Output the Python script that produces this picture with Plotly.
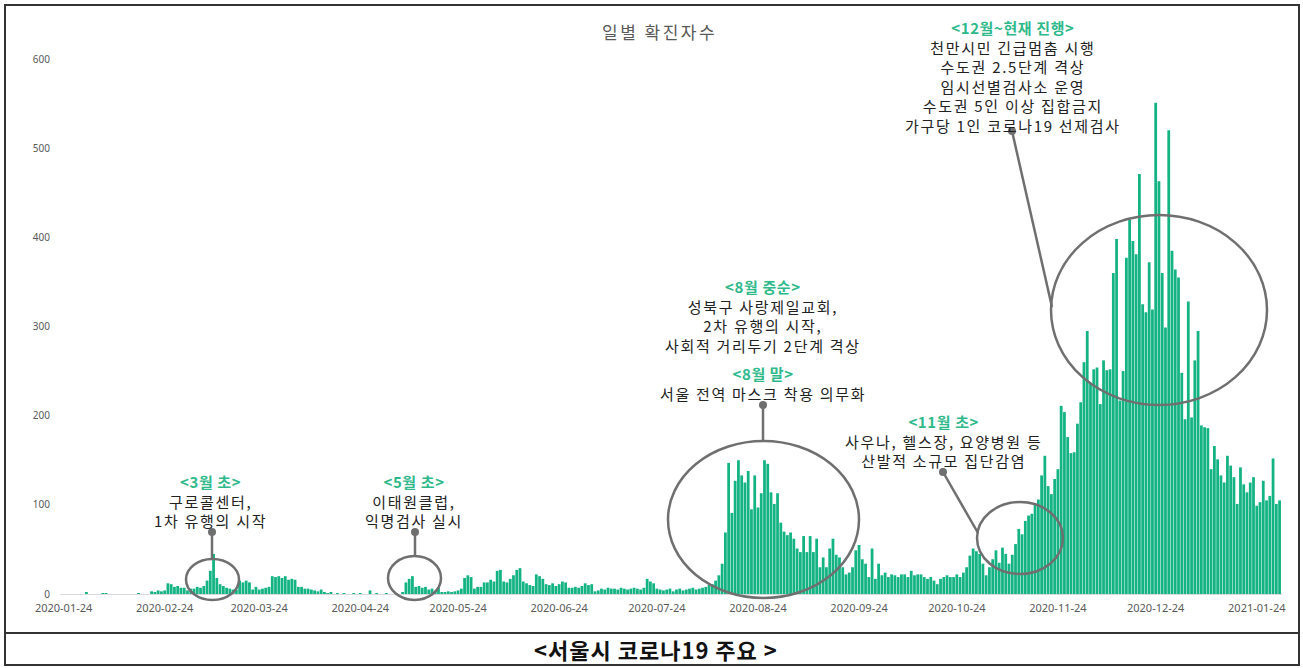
import pandas as pd
import plotly.graph_objects as go

# ---------------- data ----------------
start_date = "2020-01-24"
daily_cases = [
    # 2020-01-24 .. 2020-02-19
    0, 0, 0, 0, 0, 0, 0, 2, 0, 0, 0, 0, 1, 1, 0, 0, 0, 0, 0, 0, 0, 0, 0, 1, 0, 0, 0,
    # 02-20 .. 03-01
    3, 2, 4, 3, 4, 12, 11, 8, 9, 7, 7,
    # 03-02 .. 03-17
    4, 6, 6, 8, 7, 9, 15, 26, 45, 18, 11, 9, 7, 6, 5, 5,
    # 03-18 .. 03-27
    15, 13, 15, 13, 5, 8, 5, 6, 7, 8,
    # 03-28 .. 04-15
    20, 19, 20, 18, 20, 16, 17, 16, 8, 8, 6, 6, 5, 4, 3, 5, 2, 1, 2,
    # 04-16 .. 05-07
    0, 1, 0, 1, 0, 0, 1, 0, 1, 0, 0, 4, 0, 1, 0, 0, 1, 0, 0, 1, 0, 2,
    # 05-08 .. 05-25
    13, 17, 20, 8, 9, 7, 8, 5, 6, 3, 7, 2, 2, 3, 2, 3, 4, 6,
    # 05-26 .. 07-04
    18, 21, 19, 6, 8, 8, 13, 13, 16, 14, 26, 27, 14, 13, 17, 21, 27, 29, 14, 12,
    10, 9, 22, 20, 17, 11, 10, 12, 9, 11, 14, 13, 7, 7, 8, 7, 9, 12, 10, 11,
    # 07-05 .. 08-10
    3, 4, 6, 5, 7, 6, 6, 5, 7, 6, 5, 6, 7, 6, 5, 7, 17, 14, 12,
    6, 5, 4, 5, 6, 3, 5, 6, 4, 5, 6, 7, 5, 6, 7, 8, 10, 11,
    # 08-11 .. 09-02
    15, 21, 34, 69, 147, 91, 127, 150, 133, 125, 138, 95, 133, 97, 113, 150, 146,
    114, 101, 113, 80, 70, 66,
    # 09-03 .. 10-30
    69, 62, 51, 47, 65, 47, 65, 47, 62, 30, 41, 30, 51, 62, 44, 41, 30, 22, 24, 30,
    49, 55, 39, 34, 19, 51, 17, 34, 21, 24, 19, 22, 21, 19, 22, 22, 19, 26, 21, 22,
    22, 19, 17, 19, 15, 11, 17, 19, 21, 19, 19, 22, 19, 24, 30, 43, 51, 48,
    # 10-31 .. 11-24
    45, 34, 21, 30, 39, 49, 35, 52, 45, 34, 44, 56, 73, 67, 82, 88, 90, 101, 106, 133,
    155, 121, 112, 129, 140,
    # 11-25 .. 12-12
    211, 204, 176, 158, 159, 191, 215, 260, 295, 237, 252, 254, 213, 262, 251, 252, 360, 398,
    # 12-13 .. 01-06
    217, 250, 377, 420, 396, 381, 471, 325, 316, 372, 319, 551, 463, 360, 299, 520,
    385, 364, 355, 248, 196, 328, 198, 262, 295,
    # 01-07 .. 01-31
    189, 187, 186, 140, 166, 151, 133, 125, 155, 144, 131, 101, 142, 123, 114, 125,
    131, 99, 103, 127, 105, 110, 152, 101, 105,
]
dates = pd.date_range(start_date, periods=len(daily_cases), freq="D")

x_tick_labels = ["2020-01-24", "2020-02-24", "2020-03-24", "2020-04-24", "2020-05-24",
                 "2020-06-24", "2020-07-24", "2020-08-24", "2020-09-24", "2020-10-24",
                 "2020-11-24", "2020-12-24", "2021-01-24"]
y_tick_values = [0, 100, 200, 300, 400, 500, 600]

chart_title = "일별 확진자수"
caption = "&lt;서울시 코로나19 주요 &gt;"

# annotation texts: (header, body lines)
notes = [
    ("&lt;3월 초&gt;", ["구로콜센터,", "1차 유행의 시작"]),
    ("&lt;5월 초&gt;", ["이태원클럽,", "익명검사 실시"]),
    ("&lt;8월 중순&gt;", ["성북구 사랑제일교회,", "2차 유행의 시작,", "사회적 거리두기 2단계 격상"]),
    ("&lt;8월 말&gt;", ["서울 전역 마스크 착용 의무화"]),
    ("&lt;11월 초&gt;", ["사우나, 헬스장, 요양병원 등", "산발적 소규모 집단감염"]),
    ("&lt;12월~현재 진행&gt;", ["천만시민 긴급멈춤 시행", "수도권 2.5단계 격상", "임시선별검사소 운영",
                         "수도권 5인 이상 집합금지", "가구당 1인 코로나19 선제검사"]),
]

# ---------------- layout geometry (pixels) ----------------
W, H = 1303, 668
L, R, T, B = 60, 1282, 14, 594
X0_PX = 63.6            # pixel of first date
PX_PER_DAY = 3.26
PX_PER_UNIT = 535 / 600

start_ts = pd.Timestamp(start_date)


def px_to_date(px):
    return (start_ts + pd.Timedelta(days=(px - X0_PX) / PX_PER_DAY)).strftime("%Y-%m-%d %H:%M:%S")


def xp(px):
    return (px - L) / (R - L)


def yp(py):
    return (B - py) / (B - T)


def spaced(text, px):
    return '<span style="letter-spacing:%.1fpx">%s</span>' % (px, text)


BAR = "#14b383"
GREEN = "#2fb98b"
GREY = "#6f6f6f"
TEXT = "#222222"
FONT = "Noto Sans CJK KR"
NOTE_SIZE = 15

fig = go.Figure()
fig.add_trace(go.Bar(x=dates, y=daily_cases, marker=dict(color=BAR, line=dict(width=0)),
                     hoverinfo="x+y"))

shapes = []
annotations = []

# frame and caption separator
shapes.append(dict(type="rect", xref="paper", yref="paper", x0=xp(5), x1=xp(1299), y0=yp(5), y1=yp(665),
                   line=dict(color="#333333", width=2), layer="above"))
shapes.append(dict(type="line", xref="paper", yref="paper", x0=xp(5), x1=xp(1299), y0=yp(633), y1=yp(633),
                   line=dict(color="#333333", width=2), layer="above"))

# note blocks: (center x, center y of block) in pixels
note_pos = [(210, 501), (414, 501), (763, 316), (763, 383), (943, 441), (1013, 76)]
for (header, lines), (cx, cy) in zip(notes, note_pos):
    txt = ('<span style="color:%s;letter-spacing:0.6px"><b>%s</b></span><br>' % (GREEN, header)
           + "<br>".join(spaced(t, 1.7) for t in lines))
    annotations.append(dict(x=xp(cx), y=yp(cy), xref="paper", yref="paper", text=txt,
                            showarrow=False, xanchor="center", yanchor="middle", align="center",
                            font=dict(family=FONT, size=NOTE_SIZE, color=TEXT)))

# ellipses, leader lines and dots (pixel geometry)
ellipses = [(186, 239, 559, 600), (388, 441, 556, 600), (668, 859, 441, 598),
            (977, 1063, 502, 574), (1051, 1267, 215, 405)]
leaders = [((212, 532), (212, 560)), ((415, 532), (415, 557)), ((763, 405), (763, 441)),
           ((943, 472), (978, 533)), ((1012, 131), (1052, 307))]
for (x0, x1, y0, y1) in ellipses:
    shapes.append(dict(type="circle", xref="paper", yref="paper", x0=xp(x0), x1=xp(x1), y0=yp(y1), y1=yp(y0),
                       line=dict(color=GREY, width=2.5), fillcolor="rgba(0,0,0,0)", layer="above"))
for (a, b) in leaders:
    shapes.append(dict(type="line", xref="paper", yref="paper", x0=xp(a[0]), y0=yp(a[1]), x1=xp(b[0]), y1=yp(b[1]),
                       line=dict(color=GREY, width=2.5), layer="above"))
    r = 4
    shapes.append(dict(type="circle", xref="paper", yref="paper", x0=xp(a[0] - r), x1=xp(a[0] + r),
                       y0=yp(a[1] + r), y1=yp(a[1] - r), line=dict(color=GREY, width=0), fillcolor=GREY,
                       layer="above"))

# title and caption
annotations.append(dict(x=xp(659), y=yp(31), xref="paper", yref="paper", text=spaced(chart_title, 2.5),
                        showarrow=False, xanchor="center", yanchor="middle",
                        font=dict(family=FONT, size=17, color="#595959")))
annotations.append(dict(x=xp(656), y=yp(649), xref="paper", yref="paper",
                        text="<b>%s</b>" % spaced(caption, 1.0),
                        showarrow=False, xanchor="center", yanchor="middle",
                        font=dict(family=FONT, size=22, color="#111111")))

fig.update_layout(
    width=W, height=H,
    margin=dict(l=L, r=W - R, t=T, b=H - B, pad=0),
    paper_bgcolor="white", plot_bgcolor="white",
    showlegend=False, bargap=0.15,
    font=dict(family=FONT, color="#595959"),
    shapes=shapes, annotations=annotations,
    xaxis=dict(type="date", range=[px_to_date(L), px_to_date(R)], tickvals=x_tick_labels, ticktext=x_tick_labels,
               tickfont=dict(family="Noto Sans", size=11, color="#595959"), showgrid=False, zeroline=False,
               showline=True, linecolor="#d9d9d9", linewidth=1, ticks="", ticklabelstandoff=4),
    yaxis=dict(range=[0, (B - T) / PX_PER_UNIT], tickvals=y_tick_values,
               tickfont=dict(family="Noto Sans", size=10, color="#595959"), showgrid=False, zeroline=False,
               showline=False, ticks="", ticklabelstandoff=9),
)

fig.write_html("out.html", config={"displayModeBar": False},
               post_script="document.body.style.margin='0';document.body.style.overflow='hidden';")
